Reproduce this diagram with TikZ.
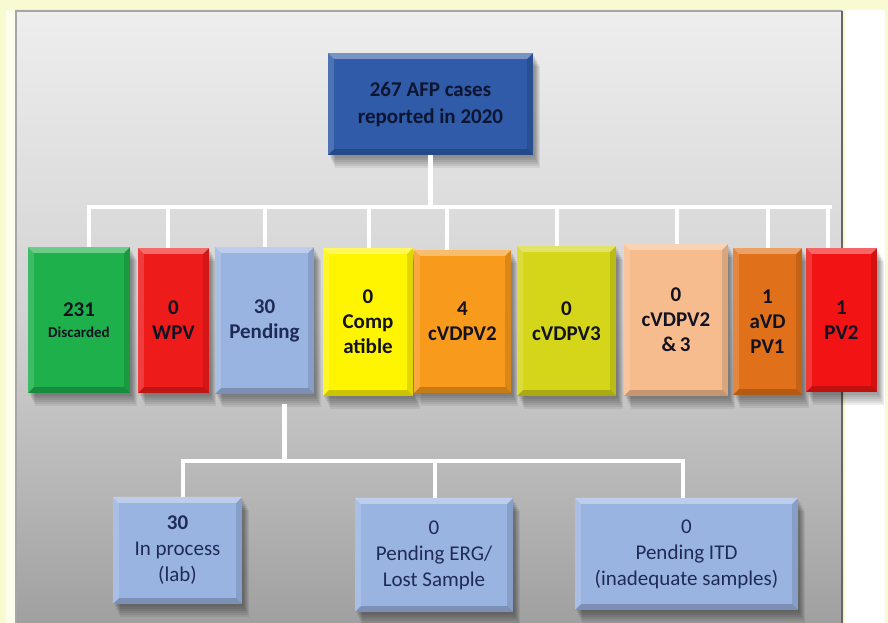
\documentclass[tikz,border=0pt]{standalone}
\usepackage{fontspec}
\setmainfont{Carlito}
\usetikzlibrary{calc}
\definecolor{bgyellow}{HTML}{FAFAD2}
\definecolor{paneltop}{HTML}{EEEEEE}
\definecolor{panelmid}{HTML}{D2D2D2}
\definecolor{panelbot}{HTML}{A0A0A0}
\definecolor{topblue}{HTML}{2F5BA8}
\definecolor{cgreen}{HTML}{1DB04B}
\definecolor{cred}{HTML}{EE1B1B}
\definecolor{pendblue}{HTML}{9AB4E2}
\definecolor{cyellow}{HTML}{FFF500}
\definecolor{corange}{HTML}{F89A1C}
\definecolor{cyg}{HTML}{D5D51A}
\definecolor{cpeach}{HTML}{F7BC8E}
\definecolor{cdorange}{HTML}{E0711A}
\definecolor{cred2}{HTML}{F21414}
\definecolor{rowtext}{HTML}{121222}
\definecolor{navytext}{HTML}{1F2B55}
\definecolor{toptext}{HTML}{0E1530}
\newcommand\mybevel[1]{%
  \fill[white,opacity=.35] (#1.north west) -- (#1.north east) -- ([shift={(-6pt,-6pt)}]#1.north east) -- ([shift={(6pt,-6pt)}]#1.north west) -- cycle;
  \fill[white,opacity=.15] (#1.north west) -- ([shift={(6pt,-6pt)}]#1.north west) -- ([shift={(6pt,6pt)}]#1.south west) -- (#1.south west) -- cycle;
  \fill[black,opacity=.12] (#1.north east) -- ([shift={(-6pt,-6pt)}]#1.north east) -- ([shift={(-6pt,6pt)}]#1.south east) -- (#1.south east) -- cycle;
  \fill[black,opacity=.2] (#1.south west) -- (#1.south east) -- ([shift={(-6pt,6pt)}]#1.south east) -- ([shift={(6pt,6pt)}]#1.south west) -- cycle;
}
\tikzset{
  softshadow/.style={
    preaction={fill=black, fill opacity=.07, transform canvas={shift={(7pt,-13pt)}}},
    preaction={fill=black, fill opacity=.07, transform canvas={shift={(6pt,-11pt)}}},
    preaction={fill=black, fill opacity=.07, transform canvas={shift={(5pt,-9pt)}}},
    preaction={fill=black, fill opacity=.07, transform canvas={shift={(4pt,-7pt)}}},
    preaction={fill=black, fill opacity=.07, transform canvas={shift={(3pt,-5pt)}}},
    preaction={fill=black, fill opacity=.07, transform canvas={shift={(2pt,-3pt)}}}},
  box/.style={rectangle, draw=none, inner sep=0pt, align=center,
    font=\bfseries\fontsize{21}{25}\selectfont, text=rowtext, softshadow},
  sub/.style={box, fill=pendblue, text=navytext, font=\fontsize{21}{26}\selectfont},
  conn/.style={draw=white, line width=4.5pt},
}
\begin{document}
\begin{tikzpicture}[x=1pt,y=-1pt]
\useasboundingbox (0,0) rectangle (888,623);
\fill[bgyellow] (0,0) rectangle (888,623);
\fill[white!60!bgyellow] (6,10) rectangle (15,623);
\fill[white] (845,10) rectangle (885,623);
\shade[top color=paneltop, bottom color=panelbot, middle color=panelmid] (15,10) rectangle (843,623);
\draw[gray!70, line width=1.2pt] (16,623) -- (16,11) -- (842,11);
\draw[gray!80!black, line width=2.5pt] (842,11) -- (842,623);

% top box
\node[box, fill=topblue, text=toptext, font=\bfseries\fontsize{21}{27}\selectfont,
  minimum width=205pt, minimum height=102pt] (top) at (430.5,104) {267 AFP cases\\reported in 2020};

% row
\node[box, fill=cgreen, minimum width=102pt, minimum height=146pt] (g) at (79,320)
  {231\\[-4pt]{\fontsize{15}{17}\selectfont Discarded}};
\node[box, fill=cred, minimum width=71pt, minimum height=145pt] (r) at (173.5,320.5) {0\\WPV};
\node[box, fill=pendblue, text=navytext, minimum width=99pt, minimum height=147pt] (p) at (264.5,320.5) {30\\Pending};
\node[box, fill=cyellow, minimum width=90pt, minimum height=148pt] (y) at (368,322) {0\\Comp\\atible};
\node[box, fill=corange, minimum width=97pt, minimum height=143pt] (o) at (462.5,321.5) {4\\cVDPV2};
\node[box, fill=cyg, minimum width=99pt, minimum height=150pt] (yg) at (566.5,321) {0\\cVDPV3};
\node[box, fill=cpeach, minimum width=104pt, minimum height=152pt] (pe) at (676,320) {0\\cVDPV2\\\&\,3};
\node[box, fill=cdorange, minimum width=69pt, minimum height=147pt] (do) at (767.5,321.5) {1\\aVD\\PV1};
\node[box, fill=cred2, minimum width=71pt, minimum height=144pt] (r2) at (841.5,320) {1\\PV2};

% bottom
\node[sub, minimum width=129pt, minimum height=107pt] (b1) at (177.5,550.5) {{\bfseries 30}\\In process\\(lab)};
\node[sub, minimum width=158pt, minimum height=114pt] (b2) at (434,555) {0\\Pending ERG/\\Lost Sample};
\node[sub, minimum width=223pt, minimum height=112pt] (b3) at (686.5,554) {0\\Pending ITD\\(inadequate samples)};

\foreach \n in {top,g,r,p,y,o,yg,pe,do,r2,b1,b2,b3} {\mybevel{\n}}

% connectors
\coordinate (busL) at (89,207);
\coordinate (busR) at (830,207);
\draw[conn] (top.south) -- (top.south |- busL);
\draw[conn, line cap=rect] (busL) -- (busR);
\foreach \n/\dx in {g/10,r/-5.5,p/0.5,y/1,o/-15.5,yg/-9.5,pe/1,do/0.5,r2/-13.5}
  {\draw[conn] ([xshift=\dx pt]\n.north) -- ([xshift=\dx pt]\n.north |- busL);}
\coordinate (bus2L) at (183,461);
\coordinate (bus2R) at (683,461);
\draw[conn] ([xshift=20pt,yshift=-10pt]p.south) -- ([xshift=20pt]p.south |- bus2L);
\draw[conn, line cap=rect] (bus2L) -- (bus2R);
\foreach \n/\dx in {b1/5.5,b2/1,b3/-3.5}
  {\draw[conn] ([xshift=\dx pt]\n.north) -- ([xshift=\dx pt]\n.north |- bus2L);}
\end{tikzpicture}
\end{document}
